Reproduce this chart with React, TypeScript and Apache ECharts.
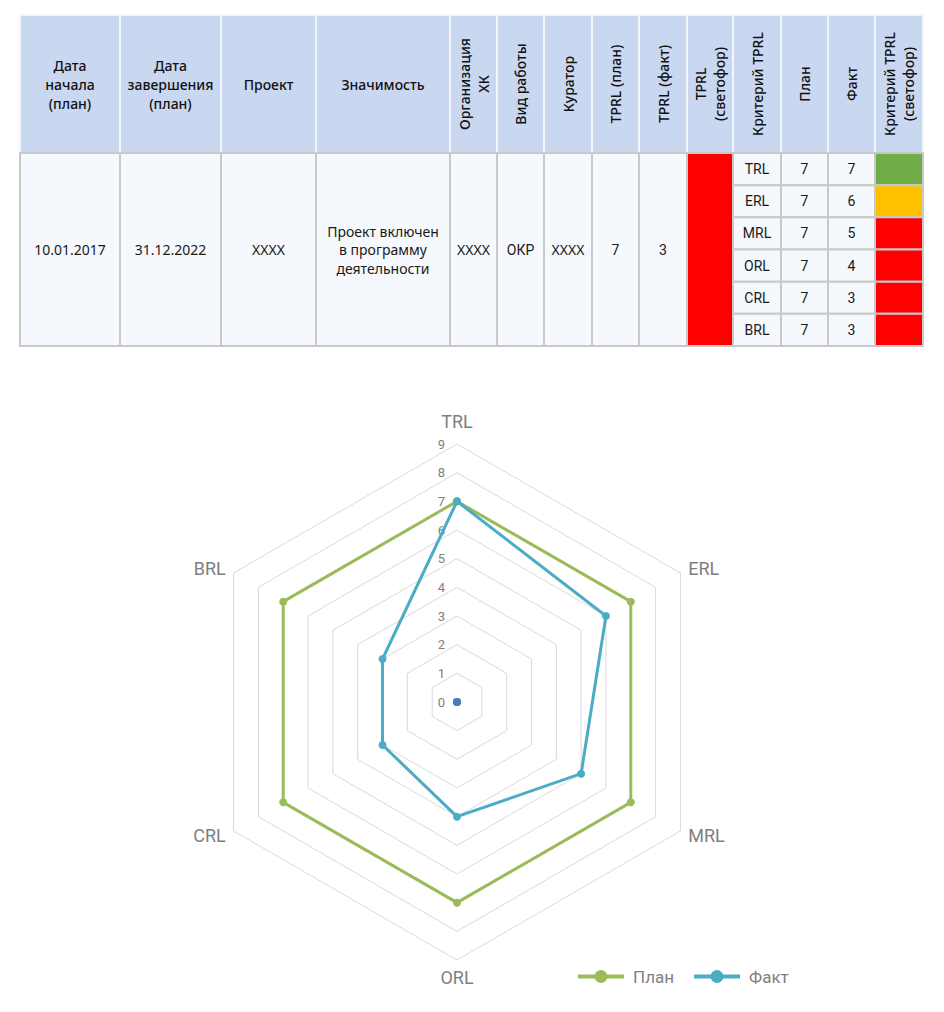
import React, { useEffect, useRef } from "react";
import * as echarts from "echarts";

// ---------- data ----------
const headerLabels = [
  "Дата\nначала\n(план)",
  "Дата\nзавершения\n(план)",
  "Проект",
  "Значимость",
  "Организация\nХК",
  "Вид работы",
  "Куратор",
  "TPRL (план)",
  "TPRL (факт)",
  "TPRL\n(светофор)",
  "Критерий TPRL",
  "План",
  "Факт",
  "Критерий TPRL\n(светофор)",
];
const headerRotated = [false, false, false, false, true, true, true, true, true, true, true, true, true, true];
const projectRow = [
  "10.01.2017",
  "31.12.2022",
  "XXXX",
  "Проект включен\nв программу\nдеятельности",
  "XXXX",
  "ОКР",
  "XXXX",
  "7",
  "3",
];
const tprlStatus = "red";
const criteria = ["TRL", "ERL", "MRL", "ORL", "CRL", "BRL"];
const planValues = [7, 7, 7, 7, 7, 7];
const factValues = [7, 6, 5, 4, 3, 3];
const criteriaStatus = ["green", "amber", "red", "red", "red", "red"];
const radarMax = 9;
const seriesNames = ["План", "Факт"];

// ---------- styling / layout ----------
const statusColors: Record<string, string> = { green: "#70AD47", amber: "#FFC000", red: "#FF0000" };
const colX = [20, 120, 221, 316, 450, 497, 544, 592, 639, 687, 733, 781, 828, 875, 923];
const headTop = 15;
const headBottom = 153;
const bodyBottom = 346;
const headerFill = "#C9D7F1";
const bodyFill = "#F5F8FD";
const gridGrey = "#C9C9C9";
const tableFont = "'Noto Sans', 'DejaVu Sans', sans-serif";
const chartFont = "Roboto, 'Noto Sans', sans-serif";
// radar indicators are laid out counter-clockwise: TRL, BRL, CRL, ORL, MRL, ERL
const radarOrder = [0, 5, 4, 3, 2, 1];
const nameGaps = [14, 9, 9, 8, 9, 9];

function buildTable(): any[] {
  const els: any[] = [];
  // header
  headerLabels.forEach((label, i) => {
    const x0 = colX[i];
    const x1 = colX[i + 1];
    els.push({
      type: "rect",
      shape: { x: x0, y: headTop, width: x1 - x0, height: headBottom - headTop },
      style: { fill: headerFill, stroke: "#F2F5FB", lineWidth: 2 },
    });
    els.push({
      type: "text",
      x: (x0 + x1) / 2,
      y: (headTop + headBottom) / 2,
      rotation: headerRotated[i] ? Math.PI / 2 : 0,
      style: {
        text: label,
        align: "center",
        verticalAlign: "middle",
        fontSize: 14,
        fontFamily: tableFont,
        fontWeight: 500,
        lineHeight: 19,
        fill: "#111111",
      },
    });
  });
  // merged body cells
  for (let i = 0; i < 10; i++) {
    const x0 = colX[i];
    const x1 = colX[i + 1];
    const fill = i === 9 ? statusColors[tprlStatus] : bodyFill;
    els.push({
      type: "rect",
      shape: { x: x0, y: headBottom, width: x1 - x0, height: bodyBottom - headBottom },
      style: { fill, stroke: gridGrey, lineWidth: 2 },
    });
    if (i < projectRow.length) {
      els.push({
        type: "text",
        x: (x0 + x1) / 2,
        y: (headBottom + bodyBottom) / 2,
        style: {
          text: projectRow[i],
          align: "center",
          verticalAlign: "middle",
          fontSize: 14,
          fontFamily: i === 5 || i >= 7 ? chartFont : tableFont,
          lineHeight: 18.5,
          fill: "#1a1a1a",
        },
      });
    }
  }
  // sub rows
  const rh = (bodyBottom - headBottom) / criteria.length;
  criteria.forEach((c, r) => {
    const y0 = headBottom + r * rh;
    const vals = [c, String(planValues[r]), String(factValues[r]), ""];
    vals.forEach((v, k) => {
      const ci = 10 + k;
      const x0 = colX[ci];
      const x1 = colX[ci + 1];
      els.push({
        type: "rect",
        shape: { x: x0, y: y0, width: x1 - x0, height: rh },
        style: { fill: k === 3 ? statusColors[criteriaStatus[r]] : bodyFill, stroke: gridGrey, lineWidth: 2 },
      });
      if (v) {
        els.push({
          type: "text",
          x: (x0 + x1) / 2,
          y: y0 + rh / 2,
          style: {
            text: v,
            align: "center",
            verticalAlign: "middle",
            fontSize: 14,
            fontFamily: chartFont,
            fill: "#1a1a1a",
          },
        });
      }
    });
  });
  return els;
}

const legendIcon = "path://M0 5h46v4h-46z M16.5 7a6.5 6.5 0 1 1 13 0a6.5 6.5 0 1 1 -13 0z";

export default function App() {
  const ref = useRef<HTMLDivElement>(null);
  useEffect(() => {
    if (!ref.current) return;
    const chart = echarts.init(ref.current, undefined, { renderer: "svg" });
    const indicator = radarOrder.map((idx, k) => ({
      name: criteria[idx],
      min: 0,
      max: radarMax,
      nameGap: nameGaps[k],
      ...(k === 0
        ? {
            axisLabel: {
              show: true,
              color: "#7f7f7f",
              fontSize: 13,
              fontFamily: chartFont,
              margin: 12,
              showMinLabel: true,
              showMaxLabel: true,
            },
          }
        : {}),
    }));
    const planRadar = radarOrder.map((i) => planValues[i]);
    const factRadar = radarOrder.map((i) => factValues[i]);
    chart.setOption({
      animation: false,
      graphic: buildTable(),
      legend: {
        data: seriesNames,
        left: 573,
        top: 963,
        icon: legendIcon,
        itemWidth: 46,
        itemHeight: 14,
        itemGap: 20,
        textStyle: { color: "#7f7f7f", fontSize: 17, fontFamily: chartFont, padding: [0, 0, 0, 4] },
      },
      radar: {
        center: [457, 702],
        radius: 258,
        startAngle: 90,
        splitNumber: 9,
        shape: "polygon",
        nameGap: 9,
        indicator,
        axisName: { color: "#7f7f7f", fontSize: 18, fontFamily: chartFont },
        axisLine: { show: false },
        axisTick: { show: false },
        axisLabel: { show: false },
        splitLine: { lineStyle: { color: "#D9D9D9", width: 1 } },
        splitArea: { show: false },
      },
      series: [
        {
          type: "radar",
          name: seriesNames[0],
          symbol: "circle",
          symbolSize: 8,
          lineStyle: { width: 3, color: "#9BBB59" },
          itemStyle: { color: "#9BBB59" },
          data: [{ name: seriesNames[0], value: planRadar }],
          z: 2,
        },
        {
          type: "radar",
          name: seriesNames[1],
          symbol: "circle",
          symbolSize: 8,
          lineStyle: { width: 3, color: "#4BACC6" },
          itemStyle: { color: "#4BACC6" },
          data: [{ name: seriesNames[1], value: factRadar }],
          z: 3,
        },
        {
          type: "radar",
          name: "origin",
          symbol: "circle",
          symbolSize: 8,
          lineStyle: { width: 0 },
          itemStyle: { color: "#4A7EBB" },
          data: [{ name: "origin", value: criteria.map(() => 0) }],
          z: 4,
        },
      ],
    });
    return () => chart.dispose();
  }, []);
  return (
    <div
      ref={ref}
      style={{ position: "absolute", left: 0, top: 0, width: 944, height: 1012 }}
    />
  );
}
